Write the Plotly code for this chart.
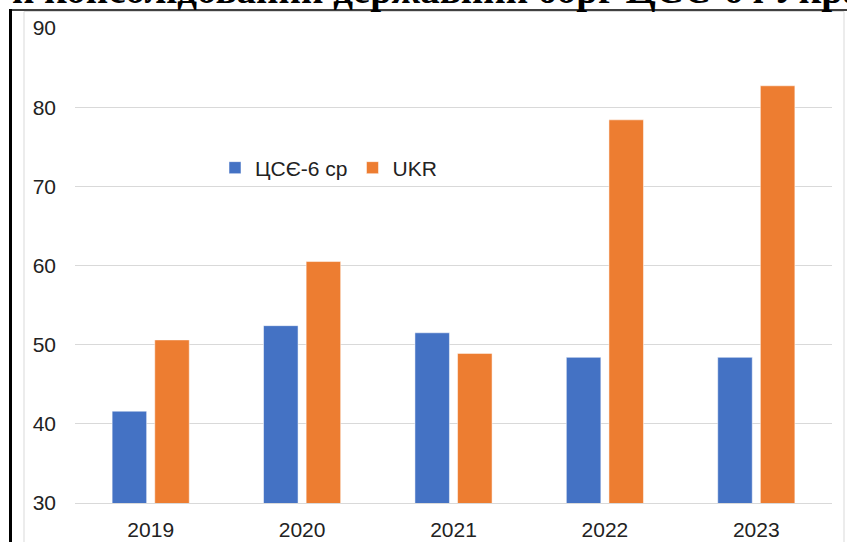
import plotly.graph_objects as go

YEARS = ["2019", "2020", "2021", "2022", "2023"]
CEE6 = [41.6, 52.4, 51.5, 48.4, 48.4]
UKR = [50.6, 60.5, 48.9, 78.4, 82.7]
SERIES_NAMES = ["ЦСЄ-6 ср", "UKR"]
TITLE = "й консолідований державний борг ЦСЄ-6 і Україні"

BLUE = "#4472C4"
ORANGE = "#ED7D31"
GRID = "#d9d9d9"
TXT = "#222222"
W, H = 847, 542
L, R, T, B = 75, 15, 28, 39


def px(x):
    return (x - L) / (W - L - R)


def py(y):
    return (H - B - y) / (H - B - T)


fig = go.Figure()
for name, vals, col in [(SERIES_NAMES[0], CEE6, BLUE), (SERIES_NAMES[1], UKR, ORANGE)]:
    fig.add_bar(name=name, x=YEARS, y=vals, marker_color=col,
                marker_line=dict(color="rgba(255,255,255,0.5)", width=1))

fig.update_layout(
    width=W, height=H, margin=dict(l=L, r=R, t=T, b=B, autoexpand=False),
    plot_bgcolor="white", paper_bgcolor="white",
    barmode="group", bargap=0.437, bargroupgap=0.19,
    font=dict(family="Liberation Sans, Arial", size=21, color=TXT),
    legend=dict(orientation="h", x=px(215), y=py(168), xanchor="left", yanchor="middle",
                font=dict(size=21), bgcolor="rgba(0,0,0,0)", itemwidth=30),
    showlegend=True,
)
fig.update_yaxes(range=[30, 90], dtick=10, showgrid=True, gridcolor=GRID, gridwidth=1,
                 zeroline=False, showline=False, ticks="", ticklabelstandoff=18,
                 tickfont=dict(size=21, color=TXT))
fig.update_xaxes(showgrid=False, showline=True, linecolor=GRID, linewidth=1, ticks="",
                 ticklabelstandoff=8, tickfont=dict(size=21, color=TXT))

# outer frame and chart-area border
fig.add_shape(type="line", xref="paper", yref="paper", x0=px(10.5), x1=px(10.5),
              y0=py(9), y1=py(H + 5), line=dict(color="black", width=3))
fig.add_shape(type="line", xref="paper", yref="paper", x0=px(9), x1=px(W + 5),
              y0=py(10), y1=py(10), line=dict(color="black", width=1.5))
fig.add_shape(type="rect", xref="paper", yref="paper", x0=px(24), x1=px(844),
              y0=py(11.5), y1=py(H + 5), line=dict(color=GRID, width=1), layer="below")

fig.add_annotation(text="<b>" + TITLE + "</b>", xref="paper", yref="paper",
                   x=px(10), y=py(14), xanchor="left", yanchor="bottom", showarrow=False,
                   font=dict(family="Liberation Serif, Times New Roman", size=39, color="black"))

fig.write_html("out.html", config={"displayModeBar": False},
               post_script="document.body.style.margin='0';")
